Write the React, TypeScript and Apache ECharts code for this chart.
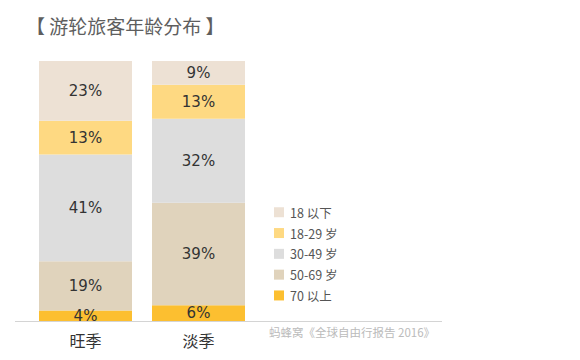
import React, { useEffect, useRef } from "react";
import * as echarts from "echarts";

const categories = ["旺季", "淡季"];
const seriesNames = ["70 以上", "50-69 岁", "30-49 岁", "18-29 岁", "18 以下"];
const values70plus = [4, 6];
const values50to69 = [19, 39];
const values30to49 = [41, 32];
const values18to29 = [13, 13];
const valuesUnder18 = [23, 9];
const colors = ["#fcbf30", "#e0d3bc", "#dddddd", "#fed982", "#ede1d4"];
const legendOrder = ["18 以下", "18-29 岁", "30-49 岁", "50-69 岁", "70 以上"];

const allValues = [values70plus, values50to69, values30to49, values18to29, valuesUnder18];

export default function App() {
  const ref = useRef<HTMLDivElement>(null);
  useEffect(() => {
    if (!ref.current) return;
    const chart = echarts.init(ref.current, undefined, { renderer: "svg" });
    const totals = categories.map((_, i) => allValues.reduce((s, arr) => s + arr[i], 0));
    const series = seriesNames.map((name, k) => ({
      name,
      type: "bar",
      stack: "total",
      barWidth: 93,
      itemStyle: { color: colors[k] },
      emphasis: { disabled: true },
      label: {
        show: true,
        position: "inside",
        color: "#333",
        fontSize: 15,
        fontFamily: "'DejaVu Sans', sans-serif",
        formatter: (p: any) => allValues[k][p.dataIndex] + "%",
      },
      data: allValues[k].map((v, i) => (v / totals[i]) * 100),
    }));
    chart.setOption({
      animation: false,
      title: {
        text: "【 游轮旅客年龄分布 】",
        left: 21,
        top: 11,
        textStyle: {
          fontSize: 19,
          fontWeight: "normal",
          color: "#5e5e5e",
          fontFamily: "'Noto Sans CJK SC', sans-serif",
        },
      },
      legend: {
        data: legendOrder,
        orient: "vertical",
        left: 269,
        top: 201,
        itemWidth: 10,
        itemHeight: 10,
        itemGap: 8.3,
        icon: "rect",
        selectedMode: false,
        textStyle: {
          fontSize: 12.5,
          color: "#555",
          fontFamily: "'Noto Sans CJK SC', sans-serif",
          padding: [0, 0, 0, 1],
        },
      },
      grid: { left: 29, width: 226, top: 61, bottom: 39, containLabel: false },
      xAxis: {
        type: "category",
        data: categories,
        axisLine: { show: false },
        axisTick: { show: false },
        axisLabel: {
          margin: 11,
          fontSize: 16,
          color: "#333",
          fontFamily: "'Noto Sans CJK SC', sans-serif",
        },
      },
      yAxis: {
        type: "value",
        min: 0,
        max: 100,
        show: false,
        splitLine: { show: false },
      },
      graphic: [
        {
          type: "line",
          shape: { x1: 15, y1: 321.5, x2: 442, y2: 321.5 },
          style: { stroke: "#d4d4d4", lineWidth: 1 },
          silent: true,
        },
        {
          type: "text",
          left: 269,
          top: 326.5,
          style: {
            text: "蚂蜂窝《全球自由行报告 2016》",
            fontSize: 11.5,
            fill: "#bbb",
            fontFamily: "'Noto Sans CJK SC', sans-serif",
          },
          silent: true,
        },
      ],
      series,
    });
    return () => chart.dispose();
  }, []);
  return <div ref={ref} style={{ width: 580, height: 360, position: "absolute", left: 0, top: 0 }} />;
}
